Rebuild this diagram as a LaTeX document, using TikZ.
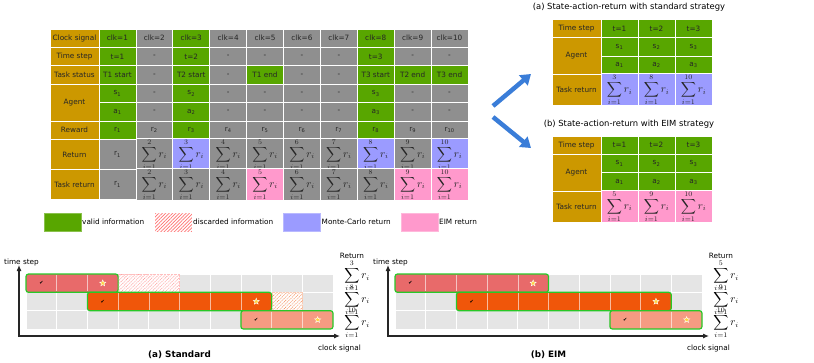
\documentclass[tikz,border=0pt]{standalone}
\usepackage{fontspec}
\setmainfont{DejaVu Sans}
\usepackage{amsmath,amssymb}
\usepackage{tikz}
\usepackage{xcolor}
\usetikzlibrary{arrows.meta,patterns.meta,shapes.geometric}

\definecolor{gold}{RGB}{204,152,0}
\definecolor{valid}{RGB}{88,166,0}
\definecolor{idle}{RGB}{143,143,143}
\definecolor{mcblue}{RGB}{155,155,255}
\definecolor{eimpink}{RGB}{255,153,204}
\definecolor{gridgray}{RGB}{229,229,229}
\definecolor{taskA}{RGB}{232,106,106}
\definecolor{taskB}{RGB}{240,86,10}
\definecolor{taskC}{RGB}{245,155,130}
\definecolor{barline}{RGB}{40,200,40}
\definecolor{arrowblue}{RGB}{58,125,216}
\definecolor{starfill}{RGB}{255,212,60}

\newcommand{\cellfont}{\fontsize{7.3}{8.5}\selectfont}
\newcommand{\rsum}[1]{{\fontsize{10.5}{11}\selectfont$\displaystyle\sum_{i=1}^{#1} r_i$}}

\tikzset{
  cell/.style={draw=white, line width=0.8pt, inner sep=0pt, minimum width=36.9pt,
    minimum height=18.4pt, font=\cellfont, text=black!85},
  head/.style={cell, fill=gold, minimum width=49pt},
  tall/.style={minimum height=30pt},
  gridcell/.style={fill=gridgray, draw=white, line width=0.8pt},
  bar/.style={draw=barline, line width=1.2pt, rounded corners=2.5pt},
  sep/.style={draw=white, opacity=0.6, line width=0.6pt},
  hatch/.style={preaction={fill=white}, pattern={Lines[angle=45,distance=2.4pt,line width=0.7pt]},
    pattern color=#1},
  tick/.style={font=\fontsize{5}{5}\selectfont, inner sep=0pt},
  staricon/.style={star, star points=5, star point ratio=2.3, minimum size=6.5pt,
    inner sep=0pt, fill=starfill, draw=white, line width=0.4pt},
  axis/.style={line width=1.1pt, draw=black!85,
    arrows={Latex[length=6pt,width=5pt]-Latex[length=6pt,width=5pt]}},
  label/.style={font=\cellfont, inner sep=0.5pt},
  legbox/.style={minimum width=36.7pt, minimum height=17.7pt, inner sep=0pt},
  bigarrow/.style={draw=arrowblue, line width=4.5pt, -{Triangle[length=10pt,width=13pt]}},
  title/.style={font=\fontsize{8.4}{10}\selectfont}
}

\begin{document}
\begin{tikzpicture}[x=1pt,y=-1pt]
\useasboundingbox (0,0) rectangle (814,362);

% timeline table
\node[head] (hClk) at (74.5,38.2) {Clock signal};
\foreach \c/\f/\t in {1/valid/clk=1,2/idle/clk=2,3/valid/clk=3,4/idle/clk=4,5/idle/clk=5,
  6/idle/clk=6,7/idle/clk=7,8/valid/clk=8,9/idle/clk=9,10/idle/clk=10}
  \node[cell,fill=\f] (clk\c) at ({99+36.9*(\c-0.5)},38.2) {\t};
\node[head] (hTime) at (74.5,56.6) {Time step};
\foreach \c/\f/\t in {1/valid/t=1,2/idle/-,3/valid/t=2,4/idle/-,5/idle/-,
  6/idle/-,7/idle/-,8/valid/t=3,9/idle/-,10/idle/-}
  \node[cell,fill=\f] (time\c) at ({99+36.9*(\c-0.5)},56.6) {\t};
\node[head] (hStatus) at (74.5,75) {Task status};
\foreach \c/\f/\t in {1/valid/T1 start,2/idle/-,3/valid/T2 start,4/idle/-,5/valid/T1 end,
  6/idle/-,7/idle/-,8/valid/T3 start,9/valid/T2 end,10/valid/T3 end}
  \node[cell,fill=\f] (status\c) at ({99+36.9*(\c-0.5)},75) {\t};
\node[head,minimum height=36.8pt] (hAgent) at (74.5,102.6) {Agent};
\foreach \c/\f/\t in {1/valid/1,2/idle/,3/valid/2,4/idle/,5/idle/,
  6/idle/,7/idle/,8/valid/3,9/idle/,10/idle/}
  {
  \ifx\t\empty
    \node[cell,fill=\f] (state\c) at ({99+36.9*(\c-0.5)},93.4) {-};
    \node[cell,fill=\f] (act\c) at ({99+36.9*(\c-0.5)},111.8) {-};
  \else
    \node[cell,fill=\f] (state\c) at ({99+36.9*(\c-0.5)},93.4) {s\textsubscript{\t}};
    \node[cell,fill=\f] (act\c) at ({99+36.9*(\c-0.5)},111.8) {a\textsubscript{\t}};
  \fi
  }
\node[head] (hReward) at (74.5,130.2) {Reward};
\foreach \c/\f in {1/valid,2/idle,3/valid,4/idle,5/idle,6/idle,7/idle,8/valid,9/idle,10/idle}
  \node[cell,fill=\f] (rew\c) at ({99+36.9*(\c-0.5)},130.2) {r\textsubscript{\c}};
\node[head,tall] (hReturn) at (74.5,154.4) {Return};
\node[cell,tall,fill=idle] (ret1) at (117.45,154.4) {r\textsubscript{1}};
\foreach \c/\f in {2/idle,3/mcblue,4/idle,5/idle,6/idle,7/idle,8/mcblue,9/idle,10/mcblue}
  \node[cell,tall,fill=\f] (ret\c) at ({99+36.9*(\c-0.5)},154.4) {\rsum{\c}};
\node[head,tall] (hTaskRet) at (74.5,184.4) {Task return};
\node[cell,tall,fill=idle] (tret1) at (117.45,184.4) {r\textsubscript{1}};
\foreach \c/\f in {2/idle,3/idle,4/idle,5/eimpink,6/idle,7/idle,8/idle,9/eimpink,10/eimpink}
  \node[cell,tall,fill=\f] (tret\c) at ({99+36.9*(\c-0.5)},184.4) {\rsum{\c}};

% legend
\node[legbox,fill=valid,draw=valid!70!white] (legValid) at (62.4,222.2) {};
\node[label,anchor=west] (legValidTxt) at (81.5,222.2) {valid information};
\node[legbox,hatch=red!55] (legDisc) at (173.5,222.2) {};
\node[label,anchor=west] (legDiscTxt) at (192.5,222.2) {discarded information};
\node[legbox,fill=mcblue,draw=mcblue!70!white] (legMC) at (302,222.2) {};
\node[label,anchor=west] (legMCTxt) at (321,222.2) {Monte-Carlo return};
\node[legbox,fill=eimpink,draw=eimpink!70!white] (legEIM) at (419.5,222.2) {};
\node[label,anchor=west] (legEIMTxt) at (438.5,222.2) {EIM return};

% blue arrows
\coordinate (arrA0) at (493,106);
\coordinate (arrA1) at (531,74);
\coordinate (arrB0) at (493,117);
\coordinate (arrB1) at (531,148);
\draw[bigarrow] (arrA0) -- (arrA1);
\draw[bigarrow] (arrB0) -- (arrB1);

% state-action-return tables
\foreach \p/\oy/\f/\ra/\rb/\rc/\ttl in {a/0/mcblue/3/8/10/{(a) State-action-return with standard strategy},
  b/116.7/eimpink/5/9/10/{(b) State-action-return with EIM strategy}}
  {
  \node[title] (title\p) at (629,{7.5+\oy}) {\ttl};
  \node[head,minimum height=18.3pt] (\p Time) at (576.5,{28.45+\oy}) {Time step};
  \node[head,minimum height=36.6pt] (\p Agent) at (576.5,{55.9+\oy}) {Agent};
  \node[head,minimum height=31pt] (\p TaskRet) at (576.5,{89.7+\oy}) {Task return};
  \foreach \c/\r in {1/\ra,2/\rb,3/\rc}
    {
    \node[cell,fill=valid,minimum width=37pt,minimum height=18.3pt] (\p t\c) at ({601+37*(\c-0.5)},{28.45+\oy}) {t=\c};
    \node[cell,fill=valid,minimum width=37pt,minimum height=18.3pt] (\p s\c) at ({601+37*(\c-0.5)},{46.75+\oy}) {s\textsubscript{\c}};
    \node[cell,fill=valid,minimum width=37pt,minimum height=18.3pt] (\p a\c) at ({601+37*(\c-0.5)},{65.05+\oy}) {a\textsubscript{\c}};
    \node[cell,fill=\f,minimum width=37pt,minimum height=31pt] (\p g\c) at ({601+37*(\c-0.5)},{89.7+\oy}) {\rsum{\r}};
    }
  }

% timeline charts
\foreach \ox/\p/\ra/\rb/\rc/\ttl in {0/a/3/8/10/{(a) Standard},369/b/5/9/10/{(b) EIM}}
  {
  \begin{scope}[xshift=\ox pt]
  \foreach \c in {1,...,10}
    \foreach \k in {1,2,3}
      \filldraw[gridcell] ({26+30.7*(\c-1)},{274+18.33*(\k-1)}) rectangle ++(30.7,18.33);
  \coordinate (\p O) at (19,336);
  \coordinate (\p Y) at (19,265);
  \coordinate (\p X) at (340,336);
  \draw[axis] (\p Y) -- (\p O) -- (\p X);
  \node[label] (\p YLab) at (21.5,262.5) {time step};
  \node[label] (\p XLab) at (339.5,348.3) {clock signal};
  \node[label] (\p RLab) at (352,255.5) {Return};
  \node[inner sep=0pt] (\p R1) at (357,276) {\rsum{\ra}};
  \node[inner sep=0pt] (\p R2) at (357,299.5) {\rsum{\rb}};
  \node[inner sep=0pt] (\p R3) at (357,323) {\rsum{\rc}};
  \node[font=\bfseries\fontsize{8.8}{10}\selectfont] (\p Title) at (179.5,354.3) {\ttl};
  \end{scope}
  }

% standard: bars and discarded cells
\draw[hatch=red!50,draw=red!25,densely dotted,line width=0.4pt] (118.1,274) rectangle (179.5,292.33);
\draw[hatch=taskB!80,draw=taskB!30,densely dotted,line width=0.4pt] (271.9,292.33) rectangle (302.6,310.67);
\draw[bar,fill=taskA] (26,274) rectangle (118.1,292.33);
\foreach \c in {2,3} \draw[sep] ({26+30.7*(\c-1)},275) -- ++(0,16.33);
\draw[bar,fill=taskB] (87.4,292.33) rectangle (271.6,310.67);
\foreach \c in {4,...,8} \draw[sep] ({26+30.7*(\c-1)},293.33) -- ++(0,16.33);
\draw[bar,fill=taskC] (240.9,310.67) rectangle (333,329);
\foreach \c in {9,10} \draw[sep] ({26+30.7*(\c-1)},311.67) -- ++(0,16.33);
\node[tick] (aT1s) at (41.35,283.2) {✔};
\node[staricon] (aT1e) at (102.75,283.2) {};
\node[tick] (aT2s) at (102.75,301.5) {✔};
\node[staricon] (aT2e) at (256.25,301.5) {};
\node[tick] (aT3s) at (256.25,319.8) {✔};
\node[staricon] (aT3e) at (317.65,319.8) {};

% EIM: bars
\begin{scope}[xshift=369pt]
\draw[bar,fill=taskA] (26,274) rectangle (179.5,292.33);
\foreach \c in {2,...,5} \draw[sep] ({26+30.7*(\c-1)},275) -- ++(0,16.33);
\draw[bar,fill=taskB] (87.4,292.33) rectangle (302.3,310.67);
\foreach \c in {4,...,9} \draw[sep] ({26+30.7*(\c-1)},293.33) -- ++(0,16.33);
\draw[bar,fill=taskC] (240.9,310.67) rectangle (333,329);
\foreach \c in {9,10} \draw[sep] ({26+30.7*(\c-1)},311.67) -- ++(0,16.33);
\node[tick] (bT1s) at (41.35,283.2) {✔};
\node[staricon] (bT1e) at (164.15,283.2) {};
\node[tick] (bT2s) at (102.75,301.5) {✔};
\node[staricon] (bT2e) at (286.95,301.5) {};
\node[tick] (bT3s) at (256.25,319.8) {✔};
\node[staricon] (bT3e) at (317.65,319.8) {};
\end{scope}
\end{tikzpicture}
\end{document}
